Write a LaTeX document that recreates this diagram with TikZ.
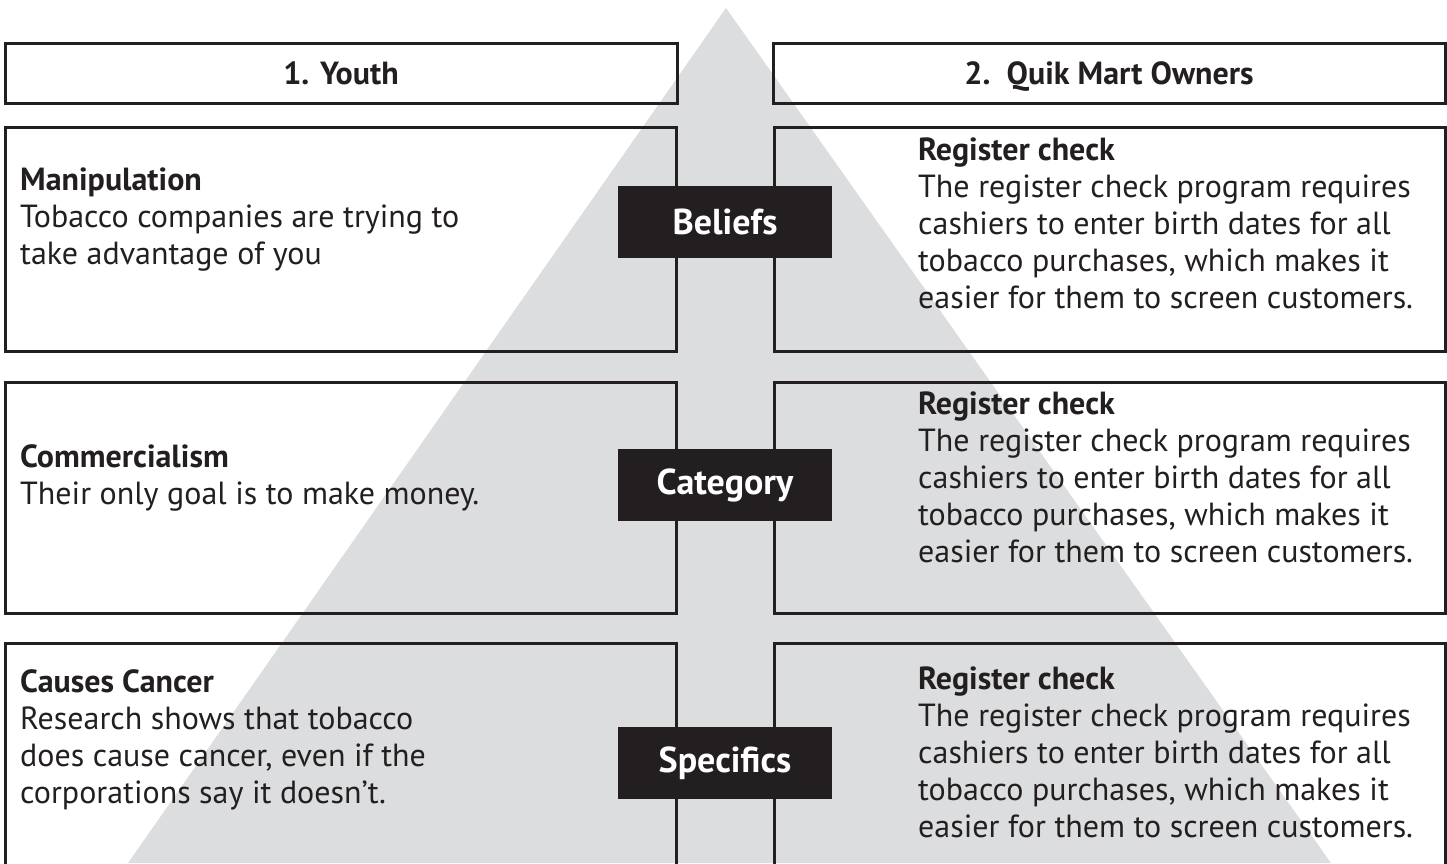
\documentclass[tikz,border=0pt]{standalone}
\usepackage{fontspec}
\setmainfont{PT Sans}
\usetikzlibrary{positioning}

\definecolor{pyrgray}{HTML}{DCDDDE}
\definecolor{inkblack}{HTML}{231F20}

\tikzset{
	cell/.style={draw=inkblack, line width=3pt, inner sep=0pt},
	headtext/.style={font=\fontsize{32}{37}\selectfont\bfseries, text=inkblack, text height=23pt, text depth=0pt},
	bodytext/.style={font=\fontsize{32}{37}\selectfont, text=inkblack, align=left, anchor=north west, inner sep=0pt},
	level/.style={fill=inkblack, text=white, font=\fontsize{36}{40}\selectfont\bfseries, minimum width=214pt, minimum height=72pt, inner sep=0pt}
}

\begin{document}
\begin{tikzpicture}[x=1pt,y=-1pt]

	\useasboundingbox (0,0) rectangle (1447,863);
	\clip (0,0) rectangle (1447,863);
	\fill[pyrgray] (726,8) -- (1331,863) -- (128,863) -- cycle;

	% header row
	\node[cell, minimum width=672pt, minimum height=60pt] (youth) at (341,73) {};
	\node[cell, minimum width=672pt, minimum height=60pt] (owners) at (1109,73) {};
	\node[headtext] (youthtext) at (youth) {1. Youth};
	\node[headtext] (ownerstext) at (owners) {2.\ \ Quik Mart Owners};

	% rows
	\node[cell, minimum width=671pt, minimum height=224pt] (lone) at (340.5,239) {};
	\node[cell, minimum width=671pt, minimum height=224pt] (rone) at (1109.5,239) {};
	\node[cell, minimum width=671pt, minimum height=231pt] (ltwo) at (340.5,497.5) {};
	\node[cell, minimum width=671pt, minimum height=231pt] (rtwo) at (1109.5,497.5) {};
	\node[cell, minimum width=671pt, minimum height=260pt] (lthree) at (340.5,773) {};
	\node[cell, minimum width=671pt, minimum height=260pt] (rthree) at (1109.5,773) {};

	% levels
	\node[level] (beliefs) at (725,222) {Beliefs};
	\node[level] (category) at (725,485) {Category};
	\node[level] (specifics) at (725,763) {Specifics};

	% texts
	\node[bodytext] (manip) at (20,168) {\textbf{Manipulation}\\Tobacco companies are trying to\\take advantage of you};
	\node[bodytext] (comm) at (20,444) {\textbf{Commercialism}\\Their only goal is to make money.};
	\node[bodytext] (cancer) at (20,669) {\textbf{Causes Cancer}\\Research shows that tobacco\\does cause cancer, even if the\\corporations say it doesn’t.};
	\node[bodytext] (regone) at (918,138) {\textbf{Register check}\\The register check program requires\\cashiers to enter birth dates for all\\tobacco purchases, which makes it\\easier for them to screen customers.};
	\node[bodytext] (regtwo) at (918,392) {\textbf{Register check}\\The register check program requires\\cashiers to enter birth dates for all\\tobacco purchases, which makes it\\easier for them to screen customers.};
	\node[bodytext] (regthree) at (918,667) {\textbf{Register check}\\The register check program requires\\cashiers to enter birth dates for all\\tobacco purchases, which makes it\\easier for them to screen customers.};

\end{tikzpicture}
\end{document}
